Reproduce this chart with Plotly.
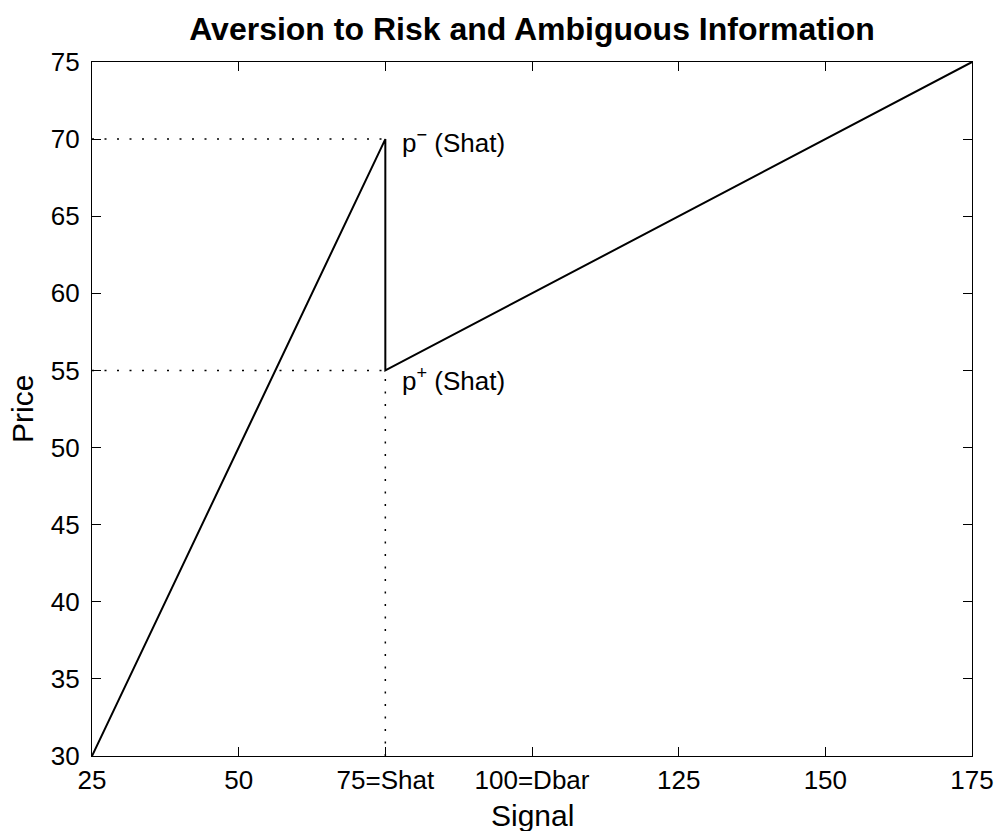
import plotly.graph_objects as go

# Data
curve_signal = [25, 75, 75, 175]
curve_price = [30, 70, 55, 75]
shat = 75
p_minus = 70
p_plus = 55
x_min, x_max = 25, 175
y_min, y_max = 30, 75
x_tickvals = [25, 50, 75, 100, 125, 150, 175]
x_ticktext = ["25", "50", "75=Shat", "100=Dbar", "125", "150", "175"]
y_tickvals = [30, 35, 40, 45, 50, 55, 60, 65, 70, 75]

FONT = "Liberation Sans, Arial, sans-serif"

fig = go.Figure()

dot = dict(color="black", width=1.5, dash="2px,10.5px")
# dotted guides
fig.add_trace(go.Scatter(x=[x_min, shat], y=[p_minus, p_minus], mode="lines", line=dot, hoverinfo="skip"))
fig.add_trace(go.Scatter(x=[x_min, shat], y=[p_plus, p_plus], mode="lines", line=dot, hoverinfo="skip"))
fig.add_trace(go.Scatter(x=[shat, shat], y=[y_min, p_plus], mode="lines", line=dot, hoverinfo="skip"))

# main curve
fig.add_trace(go.Scatter(x=curve_signal, y=curve_price, mode="lines",
                         line=dict(color="black", width=2), hoverinfo="skip"))

fig.add_annotation(x=shat, y=p_minus, text="p<sup>\u2212</sup> (Shat)", showarrow=False,
                   xanchor="left", yanchor="middle", xshift=15, yshift=-2,
                   font=dict(family=FONT, size=26, color="black"))
fig.add_annotation(x=shat, y=p_plus, text="p<sup>+</sup> (Shat)", showarrow=False,
                   xanchor="left", yanchor="middle", xshift=15, yshift=-9,
                   font=dict(family=FONT, size=26, color="black"))

# axis titles
fig.add_annotation(xref="paper", yref="paper", x=0.5, y=-(815 - 756) / 694,
                   text="Signal", showarrow=False, xanchor="center", yanchor="middle",
                   font=dict(family=FONT, size=30, color="black"))
fig.add_annotation(xref="paper", yref="paper", x=(22 - 92) / 880, y=0.5,
                   text="Price", showarrow=False, xanchor="center", yanchor="middle",
                   textangle=-90, font=dict(family=FONT, size=30, color="black"))

fig.update_layout(
    width=997, height=831,
    paper_bgcolor="white", plot_bgcolor="white",
    showlegend=False,
    margin=dict(l=92, r=25, t=62, b=75, autoexpand=False),
    title=dict(text="<b>Aversion to Risk and Ambiguous Information</b>",
               xref="paper", x=0.5, xanchor="center", y=1 - 29 / 831, yanchor="middle",
               font=dict(family=FONT, size=32, color="black")),
    font=dict(family=FONT, color="black"),
)
fig.update_xaxes(range=[x_min, x_max], tickvals=x_tickvals, ticktext=x_ticktext,
                 ticks="inside", ticklen=9, tickwidth=1.2, tickcolor="black",
                 showline=True, linecolor="black", linewidth=1.3, mirror="ticks",
                 showgrid=False, zeroline=False, ticklabelstandoff=1,
                 tickfont=dict(family=FONT, size=26, color="black"))
fig.update_yaxes(range=[y_min, y_max], tickvals=y_tickvals,
                 ticks="inside", ticklen=9, tickwidth=1.2, tickcolor="black",
                 showline=True, linecolor="black", linewidth=1.3, mirror="ticks",
                 showgrid=False, zeroline=False, ticklabelstandoff=6,
                 tickfont=dict(family=FONT, size=26, color="black"))

fig.write_html("out.html", config={"displayModeBar": False},
               post_script="document.body.style.margin='0';document.body.style.overflow='hidden';")
